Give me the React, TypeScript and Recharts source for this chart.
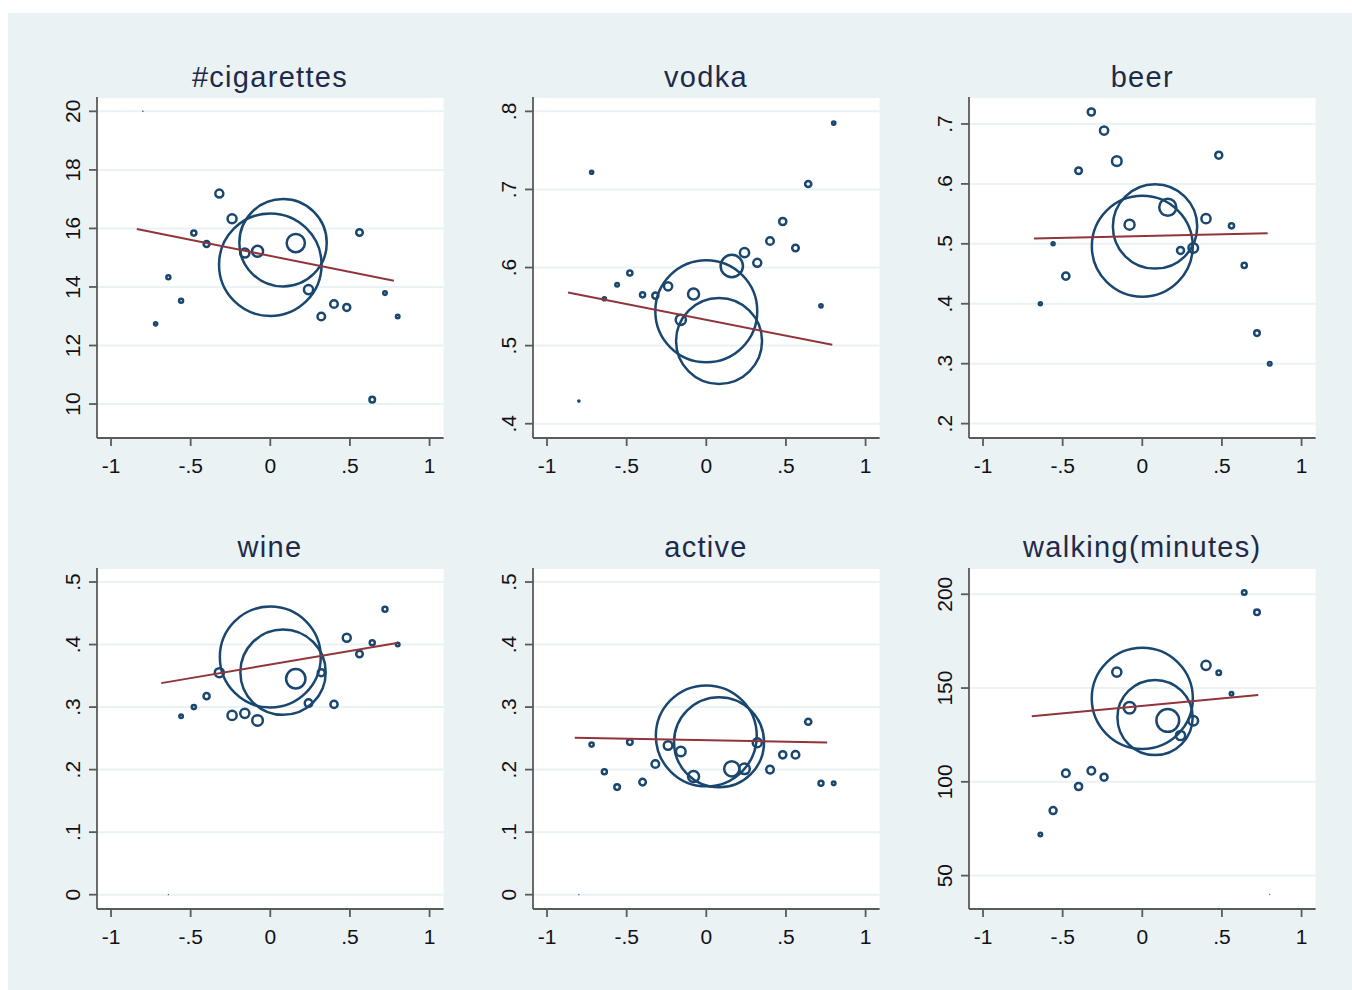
import React from "react";
import { ScatterChart, Scatter, XAxis, YAxis, CartesianGrid } from "recharts";

const NAVY = "#1A476F";
const MAROON = "#90353B";
const BG = "#EAF2F3";
const AXIS = "#5a5a5a";
const TEXT = "#111118";
const TITLE = "#1E2A4A";
const FONT = '"Liberation Sans", Arial, sans-serif';

// bin midpoints shared by all six panels
const bins = [-0.8, -0.72, -0.64, -0.56, -0.48, -0.4, -0.32, -0.24, -0.16, -0.08, 0, 0.08, 0.16, 0.24, 0.32, 0.4, 0.48, 0.56, 0.64, 0.72, 0.8];
const xTicks = [-1, -0.5, 0, 0.5, 1];

// bin means (null = empty bin) and bin weights
const cigY = [20, 12.74, 14.33, 13.53, 15.84, 15.47, 17.19, 16.33, 15.16, 15.22, 14.76, 15.51, 15.5, 13.91, 12.99, 13.42, 13.3, 15.86, 10.15, 13.79, 12.99];
const cigW = [0.2, 2.9, 3.8, 3.8, 5.3, 6.5, 10, 12, 12.4, 16.6, 1000, 733, 39, 12.4, 9.2, 9.2, 8.2, 7.5, 5.9, 3.3, 3.3];
const cigFit = [[-0.838, 15.98], [0.776, 14.21]];

const vodkaY = [0.429, 0.722, 0.56, 0.578, 0.593, 0.565, 0.564, 0.576, 0.533, 0.566, 0.544, 0.506, 0.602, 0.619, 0.606, 0.634, 0.659, 0.625, 0.707, 0.551, 0.785];
const vodkaW = [1.2, 2.9, 2.9, 3.3, 5.3, 5.3, 6.8, 10.4, 14.7, 16.6, 989, 710, 56, 12.4, 10, 9.2, 8.5, 7.5, 6.8, 3, 3];
const vodkaFit = [[-0.868, 0.568], [0.791, 0.501]];

const beerY = [null, null, 0.4, 0.5, 0.446, 0.622, 0.72, 0.689, 0.638, 0.532, 0.496, 0.529, 0.561, 0.489, 0.493, 0.542, 0.648, 0.53, 0.464, 0.351, 0.3];
const beerW = [null, null, 2.7, 2.7, 8.5, 7.5, 8.5, 10.4, 13.3, 14.2, 970, 684, 34.8, 8.2, 13.3, 12.4, 8.2, 5.3, 5.3, 5.9, 3.3];
const beerFit = [[-0.68, 0.509], [0.787, 0.5175]];

const wineY = [null, null, 0, 0.2855, 0.3, 0.3175, 0.355, 0.2866, 0.29, 0.2786, 0.38, 0.3558, 0.3453, 0.3063, 0.355, 0.3042, 0.411, 0.3848, 0.403, 0.4563, 0.4];
const wineW = [null, null, 0.13, 3.3, 4, 6.8, 12, 12.4, 12.4, 15.6, 970, 700, 43.2, 9.2, 8.2, 8.5, 10, 7.5, 5.1, 5.1, 3.3];
const wineFit = [[-0.685, 0.3383], [0.796, 0.4024]];

const activeY = [0, 0.24, 0.1965, 0.172, 0.244, 0.18, 0.209, 0.2386, 0.229, 0.189, 0.254, 0.2437, 0.2013, 0.2013, 0.243, 0.2, 0.2237, 0.2237, 0.2765, 0.178, 0.178];
const activeW = [0.13, 4, 5.1, 5.9, 5.9, 7.5, 9.2, 11.2, 13.3, 16.6, 970, 776, 28.7, 15.6, 12, 9.2, 8.5, 9.2, 6.8, 5.1, 3.3];
const activeFit = [[-0.826, 0.2509], [0.759, 0.2434]];

const walkY = [null, null, 71.9, 84.7, 104.6, 97.5, 105.9, 102.5, 158.5, 139.5, 144.5, 134.3, 132.7, 124.7, 132.6, 162.1, 158.2, 147, 200.9, 190.4, 40];
const walkW = [null, null, 3.3, 8.2, 9.2, 8.5, 9.2, 8.2, 12.4, 18.1, 974, 548, 57.8, 12.4, 13.3, 12.4, 4.5, 3.3, 4.5, 5.9, 0.13];
const walkFit = [[-0.694, 134.9], [0.728, 146.3]];

// layout of the 3x2 grid (page pixels)
const PLOT_W = 346.6;
const PLOT_H = 341;
const COL_LEFT = [96.7, 532.7, 969];
const ROW_TOP = [97.3, 567.7];
const Y_AXIS_W = 70;
const X_AXIS_H = 50;
const M_TOP = 10;
const M_RIGHT = 10;

// marker area proportional to weight
const R_MAX = 52.5;
const W_MAX = 1000;
const SW = 2.5;

const fmt = (v: number) => String(v).replace(/^(-?)0\./, "$1.");

const toPoints = (ys: (number | null)[], ws: (number | null)[]) =>
  bins
    .map((x, i) => ({ x, y: ys[i], w: ws[i] }))
    .filter((p) => p.y != null);

const toFit = (f: number[][]) => f.map(([x, y]) => ({ x, y }));

const panels = [
  { title: "#cigarettes", col: 0, row: 0, points: toPoints(cigY, cigW), fit: toFit(cigFit), yDomain: [8.84, 20.49], yTicks: [10, 12, 14, 16, 18, 20] },
  { title: "vodka", col: 1, row: 0, points: toPoints(vodkaY, vodkaW), fit: toFit(vodkaFit), yDomain: [0.3817, 0.8184], yTicks: [0.4, 0.5, 0.6, 0.7, 0.8] },
  { title: "beer", col: 2, row: 0, points: toPoints(beerY, beerW), fit: toFit(beerFit), yDomain: [0.176, 0.745], yTicks: [0.2, 0.3, 0.4, 0.5, 0.6, 0.7] },
  { title: "wine", col: 0, row: 1, points: toPoints(wineY, wineW), fit: toFit(wineFit), yDomain: [-0.0229, 0.5224], yTicks: [0, 0.1, 0.2, 0.3, 0.4, 0.5] },
  { title: "active", col: 1, row: 1, points: toPoints(activeY, activeW), fit: toFit(activeFit), yDomain: [-0.0229, 0.5224], yTicks: [0, 0.1, 0.2, 0.3, 0.4, 0.5] },
  { title: "walking(minutes)", col: 2, row: 1, points: toPoints(walkY, walkW), fit: toFit(walkFit), yDomain: [32.2, 214], yTicks: [50, 100, 150, 200] },
];

const renderBubble = (props: any) => {
  const { cx, cy, payload } = props;
  const r = R_MAX * Math.sqrt(payload.w / W_MAX);
  if (r <= SW) return <circle cx={cx} cy={cy} r={r} fill={NAVY} />;
  return <circle cx={cx} cy={cy} r={r - SW / 2} fill="none" stroke={NAVY} strokeWidth={SW} />;
};

const XTick = (props: any) => {
  const { x, y, payload } = props;
  return (
    <text x={x} y={y + 25} textAnchor="middle" fontSize={21} fontFamily={FONT} fill={TEXT}>
      {fmt(payload.value)}
    </text>
  );
};

const YTick = (props: any) => {
  const { x, y, payload } = props;
  const bx = x - 7;
  return (
    <text x={bx} y={y} transform={`rotate(-90 ${bx} ${y})`} textAnchor="middle" fontSize={21} fontFamily={FONT} fill={TEXT}>
      {fmt(payload.value)}
    </text>
  );
};

function Panel({ p }: { p: (typeof panels)[number] }) {
  const left = COL_LEFT[p.col];
  const top = ROW_TOP[p.row];
  return (
    <>
      <div
        style={{
          position: "absolute",
          left,
          top: top - 34.3,
          width: PLOT_W,
          textAlign: "center",
          fontFamily: FONT,
          fontSize: 29,
          lineHeight: "29px",
          letterSpacing: 1.3,
          color: TITLE,
          whiteSpace: "nowrap",
        }}
      >
        {p.title}
      </div>
      <div style={{ position: "absolute", left: left - Y_AXIS_W, top: top - M_TOP }}>
        <ScatterChart
          width={Y_AXIS_W + PLOT_W + M_RIGHT}
          height={M_TOP + PLOT_H + X_AXIS_H}
          margin={{ top: M_TOP, right: M_RIGHT, bottom: 0, left: 0 }}
        >
          <CartesianGrid vertical={false} stroke={BG} strokeWidth={2} fill="#ffffff" fillOpacity={1} />
          <XAxis
            type="number"
            dataKey="x"
            domain={[-1.088, 1.088]}
            ticks={xTicks}
            interval={0}
            allowDataOverflow
            height={X_AXIS_H}
            tickSize={8}
            tick={<XTick />}
            axisLine={{ stroke: AXIS, strokeWidth: 1.8 }}
            tickLine={{ stroke: AXIS, strokeWidth: 1.8 }}
          />
          <YAxis
            type="number"
            dataKey="y"
            domain={p.yDomain}
            ticks={p.yTicks}
            interval={0}
            allowDataOverflow
            width={Y_AXIS_W}
            tickSize={8}
            tick={<YTick />}
            axisLine={{ stroke: AXIS, strokeWidth: 1.8 }}
            tickLine={{ stroke: AXIS, strokeWidth: 1.8 }}
          />
          <Scatter data={p.points} shape={renderBubble} isAnimationActive={false} />
          <Scatter
            data={p.fit}
            line={{ stroke: MAROON, strokeWidth: 2 }}
            shape={() => <g />}
            isAnimationActive={false}
          />
        </ScatterChart>
      </div>
    </>
  );
}

export default function App() {
  return (
    <div style={{ position: "absolute", left: 0, top: 0, width: 1352, height: 990, background: "#ffffff", overflow: "hidden" }}>
      <div style={{ position: "absolute", left: 8, top: 13, width: 1344, height: 977, background: BG }} />
      {panels.map((p) => (
        <Panel key={p.title} p={p} />
      ))}
    </div>
  );
}
